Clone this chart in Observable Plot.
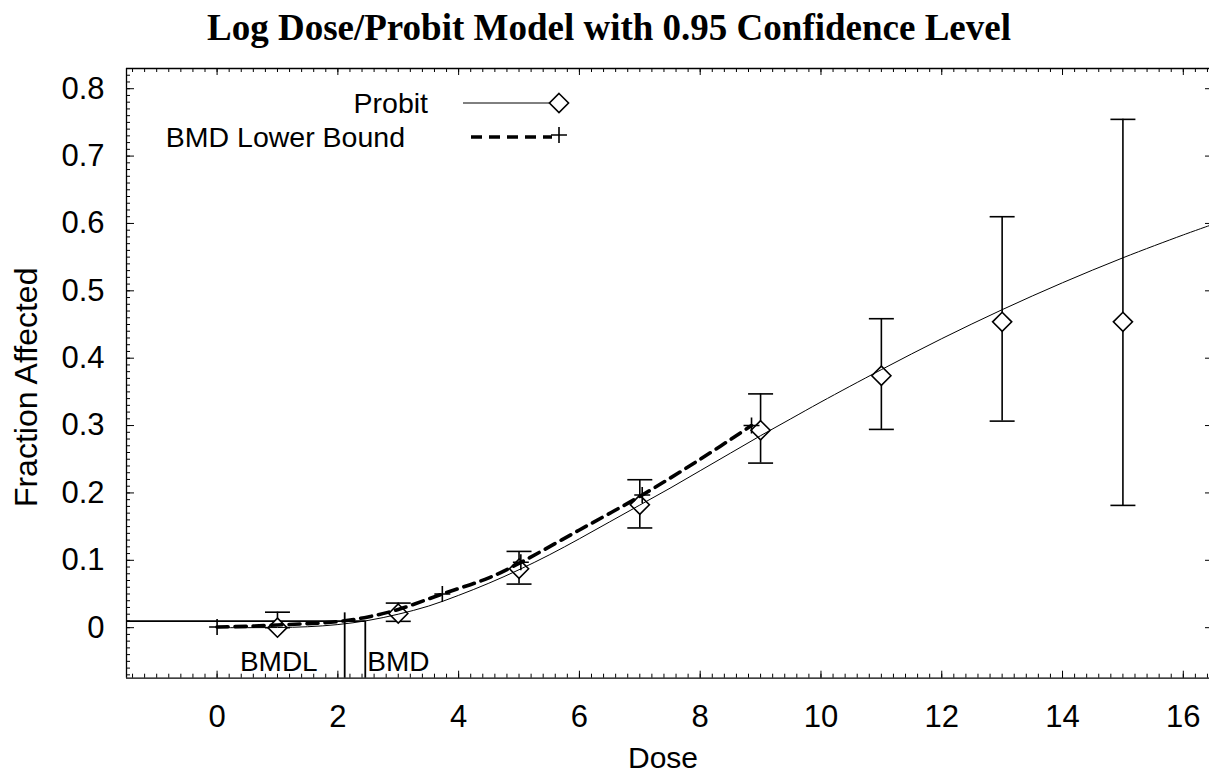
<!DOCTYPE html>
<html><head><meta charset="utf-8">
<script src="https://cdn.jsdelivr.net/npm/d3@7"></script>
<script src="https://cdn.jsdelivr.net/npm/@observablehq/plot@0.6"></script>
<style>
body{margin:0;background:#fff;color:#000;}
#wrap{position:relative;width:1209px;height:778px;overflow:hidden;}
#title{height:56px;line-height:56px;text-align:center;padding-left:9px;box-sizing:border-box;font-family:"Liberation Serif","Times New Roman",serif;font-weight:bold;font-size:37px;white-space:nowrap;}
#legend{position:absolute;left:0;top:0;}
</style></head><body>
<div id="wrap"><div id="title">Log Dose/Probit Model with 0.95 Confidence Level</div><div id="chart"></div><svg id="legend" width="1209" height="180"></svg></div>
<script>
// ---- data ----
const obsDose  = [1, 3, 5, 7, 9, 11, 13, 15];
const obsFrac  = [0, 0.021, 0.0875, 0.1825, 0.293, 0.374, 0.454, 0.454];
const obsLower = [0, 0.0094, 0.0647, 0.148, 0.2443, 0.2943, 0.3066, 0.1815];
const obsUpper = [0.023, 0.0365, 0.1132, 0.2196, 0.347, 0.4586, 0.61, 0.7545];

const probitDose = [0, 0.5, 1, 1.5, 2, 2.5, 3, 3.5, 4, 4.5, 5, 5.5, 6, 6.5, 7, 7.5, 8, 8.5, 9, 9.5, 10, 11, 12, 13, 14, 15, 16, 16.5];
const probitFrac = [0, 0, 0.0002, 0.0014, 0.0046, 0.0107, 0.020, 0.032, 0.048, 0.066, 0.086, 0.108, 0.132, 0.157, 0.182, 0.207, 0.233, 0.259, 0.285, 0.310, 0.335, 0.383, 0.429, 0.472, 0.512, 0.549, 0.583, 0.599];

const lbDose = [0, 0.5, 1, 1.5, 2, 2.5, 3, 3.73, 4.5, 5.03, 6, 7.04, 8, 8.85];
const lbFrac = [0.001, 0.002, 0.004, 0.006, 0.009, 0.016, 0.027, 0.050, 0.074, 0.097, 0.145, 0.197, 0.250, 0.300];
const lbMarkDose = [0, 3.73, 5.03, 7.04, 8.85];
const lbMarkFrac = [0.001, 0.050, 0.097, 0.197, 0.300];

const BMDL = 2.113, BMD = 2.454, bmrLevel = 0.0098, bmdlTop = 0.022;

const xTicks = [0, 2, 4, 6, 8, 10, 12, 14, 16];
const yTicks = [0, 0.1, 0.2, 0.3, 0.4, 0.5, 0.6, 0.7, 0.8];
const xTickLabels = ["0","2","4","6","8","10","12","14","16"];
const yTickLabels = ["0","0.1","0.2","0.3","0.4","0.5","0.6","0.7","0.8"];
const xLabel = "Dose", yLabel = "Fraction Affected";
const legendLabels = ["Probit", "BMD Lower Bound"];

// ---- build tables ----
const points = obsDose.map((d, i) => ({dose: d, frac: obsFrac[i], lo: obsLower[i], hi: obsUpper[i]}));
const probit = probitDose.map((d, i) => ({dose: d, frac: probitFrac[i]}));
const lb = lbDose.map((d, i) => ({dose: d, frac: lbFrac[i]}));
const lbMarks = lbMarkDose.map((d, i) => ({dose: d, frac: lbMarkFrac[i]}));

const xDomain = [-1.5, 16.5], yDomain = [-0.075, 0.83];
const W = 1209, H = 722, mL = 126, mR = 0, mT = 12, mB = 100.3;
const innerW = W - mL - mR, innerH = H - mT - mB;
const xMinor = d3.range(-7, 83).map(i => i * 0.2);
const yMinor = d3.range(-7, 84).map(i => i / 100);
const FONT = "'Liberation Sans', Arial, Helvetica, sans-serif";
const FS = 28, FS_TICK = 31, FS_AXIS = 30, FS_YAXIS = 32, FS_LEG = 28.5;

const capSym = {draw(ctx, size) { const w = Math.sqrt(size / Math.PI); ctx.moveTo(-w, 0); ctx.lineTo(w, 0); }};

const chart = Plot.plot({
  width: W, height: H,
  marginLeft: mL, marginRight: mR, marginTop: mT, marginBottom: mB,
  style: {fontFamily: FONT, background: "#fff", color: "#000", overflow: "hidden"},
  x: {domain: xDomain, range: [126, 1213]},
  y: {domain: yDomain},
  marks: [
    // frame (left, top, bottom)
    Plot.ruleX([xDomain[0]], {stroke: "#000", strokeWidth: 1.3}),
    Plot.ruleY([yDomain[0], yDomain[1]], {stroke: "#000", strokeWidth: 1.3}),
    // inward tick marks
    Plot.tickX(xTicks, {x: d => d, insetTop: innerH - 7, stroke: "#000"}),
    Plot.tickX(xMinor, {x: d => d, insetTop: innerH - 4, stroke: "#000"}),
    Plot.tickX(xTicks, {x: d => d, insetBottom: innerH - 7, stroke: "#000"}),
    Plot.tickX(xMinor, {x: d => d, insetBottom: innerH - 4, stroke: "#000"}),
    Plot.tickY(yTicks, {y: d => d, insetRight: innerW - 8, stroke: "#000"}),
    Plot.tickY(yMinor, {y: d => d, insetRight: innerW - 4, stroke: "#000"}),
    Plot.tickY(yTicks, {y: d => d, insetLeft: innerW - 4, stroke: "#000"}),
    // axes labels
    Plot.axisX(xTicks, {anchor: "bottom", tickSize: 0, tickPadding: 27, fontSize: FS_TICK, label: null,
      tickFormat: d => xTickLabels[xTicks.indexOf(d)]}),
    Plot.axisY(yTicks, {anchor: "left", tickSize: 0, tickPadding: 22, fontSize: FS_TICK, label: null,
      tickFormat: d => yTickLabels[yTicks.indexOf(d)]}),
    Plot.text([xLabel], {frameAnchor: "bottom", lineAnchor: "middle", textAnchor: "middle", dx: -5, dy: 80, fontSize: FS_AXIS, fill: "#000"}),
    Plot.text([yLabel], {frameAnchor: "left", lineAnchor: "middle", textAnchor: "middle", rotate: -90, dx: -100, dy: 14, fontSize: FS_YAXIS, fill: "#000"}),
    // BMD markers
    Plot.ruleY([bmrLevel], {x1: xDomain[0], x2: BMD, stroke: "#000", strokeWidth: 1.8}),
    Plot.ruleX([BMDL], {y1: yDomain[0], y2: bmdlTop, stroke: "#000", strokeWidth: 1.8}),
    Plot.ruleX([BMD], {y1: yDomain[0], y2: bmrLevel, stroke: "#000", strokeWidth: 1.8}),
    Plot.text(["BMDL"], {x: BMDL, y: yDomain[0], textAnchor: "end", dx: -27, dy: -16, fontSize: FS, fill: "#000"}),
    Plot.text(["BMD"], {x: BMD, y: yDomain[0], textAnchor: "start", dx: 2, dy: -16, fontSize: FS, fill: "#000"}),
    // error bars
    Plot.ruleX(points, {x: "dose", y1: "lo", y2: "hi", stroke: "#000", strokeWidth: 1.6}),
    Plot.dot(points, {x: "dose", y: "hi", symbol: capSym, r: 12.5, stroke: "#000", fill: "none", strokeWidth: 1.6}),
    Plot.dot(points, {x: "dose", y: "lo", symbol: capSym, r: 12.5, stroke: "#000", fill: "none", strokeWidth: 1.6}),
    // observed
    Plot.dot(points, {x: "dose", y: "frac", symbol: "diamond2", r: 8.6, stroke: "#000", fill: "#fff", strokeWidth: 1.6}),
    // curves
    Plot.line(probit, {x: "dose", y: "frac", stroke: "#000", strokeWidth: 1, curve: "catmull-rom"}),
    Plot.line(lb, {x: "dose", y: "frac", stroke: "#000", strokeWidth: 3.6, strokeDasharray: "11,7", curve: "catmull-rom"}),
    Plot.dot(lbMarks, {x: "dose", y: "frac", symbol: "plus", r: 5.2, stroke: "#000", strokeWidth: 1.6})
  ]
});
document.getElementById("chart").appendChild(chart);

// ---- legend ----
const lg = d3.select("#legend");
lg.append("text").attr("x", 428).attr("y", 103).attr("dy", "0.35em").attr("text-anchor", "end")
  .style("font-family", FONT).style("font-size", FS_LEG + "px").text(legendLabels[0]);
lg.append("text").attr("x", 405).attr("y", 137).attr("dy", "0.35em").attr("text-anchor", "end")
  .style("font-family", FONT).style("font-size", FS_LEG + "px").text(legendLabels[1]);
lg.append("line").attr("x1", 463).attr("x2", 552).attr("y1", 103).attr("y2", 103).attr("stroke", "#000").attr("stroke-width", 1);
lg.append("path").attr("d", d3.symbol(d3.symbolDiamond2, 8.6 * 8.6 * Math.PI)()).attr("transform", "translate(559,103)")
  .attr("fill", "#fff").attr("stroke", "#000").attr("stroke-width", 1.6);
lg.append("line").attr("x1", 471).attr("x2", 552).attr("y1", 137).attr("y2", 137).attr("stroke", "#000").attr("stroke-width", 3.6).attr("stroke-dasharray", "11,7");
lg.append("path").attr("d", d3.symbol(d3.symbolPlus, 5.2 * 5.2 * Math.PI)()).attr("transform", "translate(559,135)")
  .attr("fill", "none").attr("stroke", "#000").attr("stroke-width", 1.6);
</script>
</body></html>
